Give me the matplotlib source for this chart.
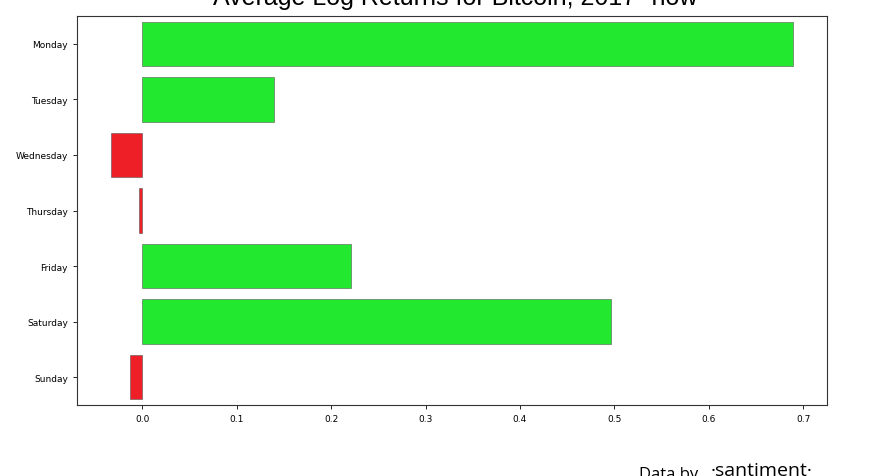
import matplotlib
matplotlib.use("Agg")
import matplotlib.pyplot as plt

days = ["Monday", "Tuesday", "Wednesday", "Thursday", "Friday", "Saturday", "Sunday"]
avg_log_returns = [0.689, 0.140, -0.033, -0.003, 0.221, 0.496, -0.0125]

green = "#22e82f"
red = "#ee1f26"
colors = [green if v >= 0 else red for v in avg_log_returns]

fig = plt.figure(figsize=(8.76, 4.77), dpi=100)
ax = fig.add_axes([77 / 876, 1 - 406 / 477, 750 / 876, 389 / 477])

ypos = list(range(len(days)))
ax.barh(ypos, avg_log_returns, height=0.8, color=colors,
        edgecolor="#555555", linewidth=0.4)
ax.set_yticks(ypos)
ax.set_yticklabels(days)
ax.set_ylim(len(days) - 0.5, -0.5)
ax.tick_params(labelsize=6.5, length=3, width=0.6)
for s in ax.spines.values():
    s.set_linewidth(0.8)
    s.set_color("#333333")

fig.text(455 / 876, 1 - 4.5 / 477, "Average Log Returns for Bitcoin, 2017- now",
         ha="center", va="baseline", fontsize=18, family="Liberation Sans")

fig.text(639 / 876, 1 - 467 / 477, "Data by", ha="left", va="top",
         fontsize=12, family="Open Sans")
fig.text(711 / 876, 1 - 462 / 477, "\u00b7santiment\u00b7", ha="left", va="top",
         fontsize=14, family="Open Sans")

fig.savefig("out.png", dpi=100)
